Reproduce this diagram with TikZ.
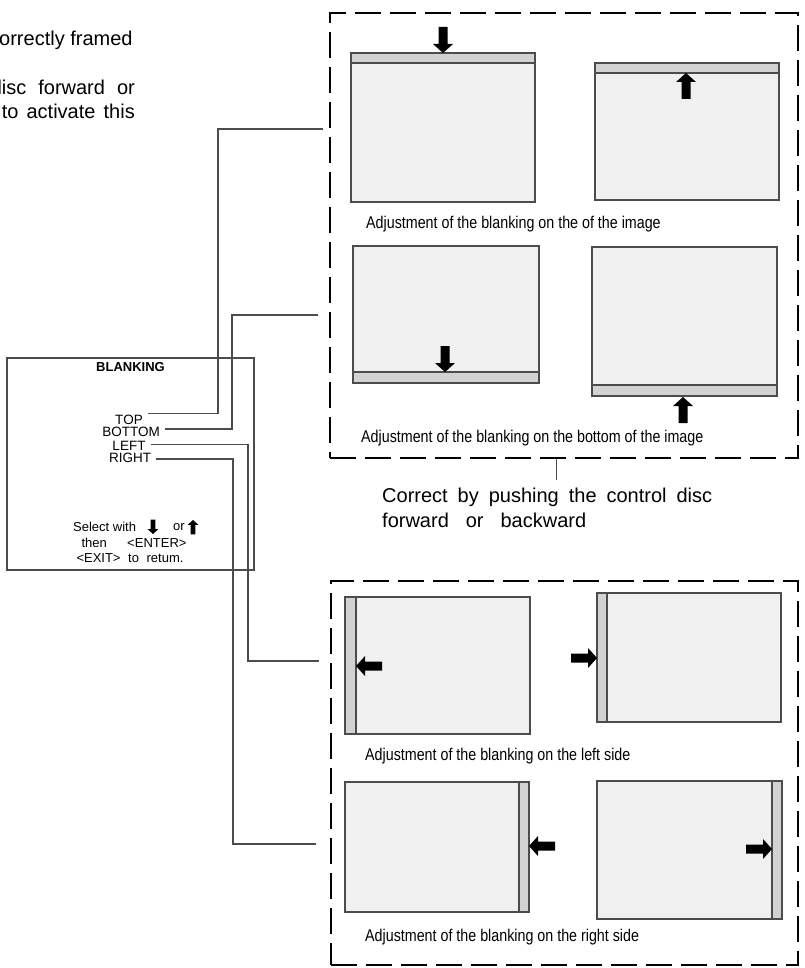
\documentclass[tikz,border=0pt]{standalone}
\usepackage{fontspec}
\setmainfont{Liberation Sans}
\newfontfamily\narrowfont[FakeStretch=0.84]{Liberation Sans}
\usepackage{tikz}
\usetikzlibrary{positioning}

\definecolor{screenfill}{HTML}{F0F0F0}
\definecolor{bandfill}{HTML}{D2D2D2}
\definecolor{edgegray}{HTML}{4C4C4C}

\tikzset{
    dashframe/.style={draw=black, line width=2.6pt, dash pattern=on 26pt off 9pt, inner sep=0pt},
    screen/.style={fill=screenfill, draw=edgegray, line width=1.3pt},
    band/.style={fill=bandfill, draw=edgegray, line width=1.3pt},
    wire/.style={draw=edgegray, line width=1.2pt},
    menuitem/.style={font=\fontsize{13.5}{14}\selectfont, inner sep=0pt, outer xsep=5pt},
    bigtext/.style={font=\fontsize{20}{24}\selectfont, inner sep=0pt},
    caption/.style={font=\narrowfont\fontsize{17}{19}\selectfont, anchor=west, inner sep=0pt},
    smalltext/.style={font=\fontsize{13}{14}\selectfont, inner sep=0pt},
    blockarrow/.pic={
        \fill (0,0) -- (-10,-9) -- (-4.5,-9) -- (-4.5,-26) -- (4.5,-26) -- (4.5,-9) -- (10,-9) -- cycle;
    }
}

\begin{document}
\begin{tikzpicture}[x=1pt,y=-1pt]
    \useasboundingbox (0,0) rectangle (804,968);

    % Text cut at the left edge
    \node[bigtext, anchor=base west] (intro1) at (-1,46) {orrectly framed};
    \node[bigtext, anchor=base east] (intro2) at (135,95) {\makebox[144pt][s]{disc forward or}};
    \node[bigtext, anchor=base east] (intro3) at (135,119) {\makebox[133pt][s]{to activate this}};

    % Menu
    \node[draw=edgegray, line width=1.2pt, minimum width=247pt, minimum height=212pt, inner sep=0pt] (menu) at (130.5,464) {};
    \node[font=\bfseries\fontsize{13}{14}\selectfont, inner sep=0pt, below=5pt of menu.north] (mtitle) {BLANKING};
    \node[menuitem] (mtop) at (129,419.5) {TOP};
    \node[menuitem] (mbottom) at (131,432) {BOTTOM};
    \node[menuitem] (mleft) at (129,445.5) {LEFT};
    \node[menuitem] (mright) at (130,458) {RIGHT};
    \node[smalltext, anchor=west] (msel) at (73,527) {Select with};
    \node[smalltext] (mor) at (179,527) {or};
    \pic[scale=0.55] at (153,534) {blockarrow};
    \pic[scale=0.55, rotate=180] at (193,520) {blockarrow};
    \node[smalltext] (menter) at (134,543) {\makebox[105pt][s]{then <ENTER>}};
    \node[smalltext] (mexit) at (130,558) {\makebox[107pt][s]{<EXIT> to retum.}};

    % Dashed frames
    \node[dashframe, minimum width=468pt, minimum height=445pt] (upper) at (564,235.5) {};
    \node[dashframe, minimum width=467pt, minimum height=384pt] (lower) at (564.5,773) {};

    % Screens
    \foreach \xa/\ya/\xb/\yb in {351/53/535/202, 595/63/779/200, 353/246/539/383, 592/247/777/396,
                                345/597/530/734, 597/593/781/722, 345/782/529/912, 597/781/782/919}
        \filldraw[screen] (\xa,\ya) rectangle (\xb,\yb);

    % Blanking bands
    \foreach \xa/\ya/\xb/\yb in {351/53/535/63, 595/63/779/73, 353/372/539/383, 592/385/777/396,
                                345/597/356/734, 597/593/607/722, 519/782/529/912, 772/781/782/919}
        \filldraw[band] (\xa,\ya) rectangle (\xb,\yb);

    % Arrows
    \foreach \x/\y/\a in {443/53/0, 686/73/180, 445/372/0, 683/397/180,
                          356/666/-90, 597/658/90, 529/846/-90, 772/849/90}
        \pic[rotate=\a] at (\x,\y) {blockarrow};

    % Captions
    \node[caption] (cap1) at (366,224) {Adjustment of the blanking on the of the image};
    \node[caption] (cap2) at (361,438) {Adjustment of the blanking on the bottom of the image};
    \node[caption] (cap3) at (365,756) {Adjustment of the blanking on the left side};
    \node[caption] (cap4) at (365,937) {Adjustment of the blanking on the right side};

    % Note below the upper frame
    \node[bigtext, anchor=base west] (note1) at (382,502) {\makebox[330pt][s]{Correct by pushing the control disc}};
    \node[bigtext, anchor=base west] (note2) at (382,527) {\makebox[204pt][s]{forward or backward}};
    \coordinate (tick) at (556,480);
    \draw[wire, line width=0.9pt] (upper.south -| tick) -- (tick);

    % Connectors
    \coordinate (ktop) at (218,129);
    \coordinate (etop) at (323,129);
    \coordinate (kbottom) at (232,315);
    \coordinate (ebottom) at (318,315);
    \coordinate (kleft) at (248,661);
    \coordinate (eleft) at (319,661);
    \coordinate (kright) at (233,844);
    \coordinate (eright) at (316,844);
    \draw[wire] ([yshift=6pt]mtop.east) -| (ktop) -- (etop);
    \draw[wire] ([yshift=3pt]mbottom.east) -| (kbottom) -- (ebottom);
    \draw[wire] ([yshift=1pt]mleft.east) -| (kleft) -- (eleft);
    \draw[wire] ([yshift=-1pt]mright.east) -| (kright) -- (eright);
\end{tikzpicture}
\end{document}
